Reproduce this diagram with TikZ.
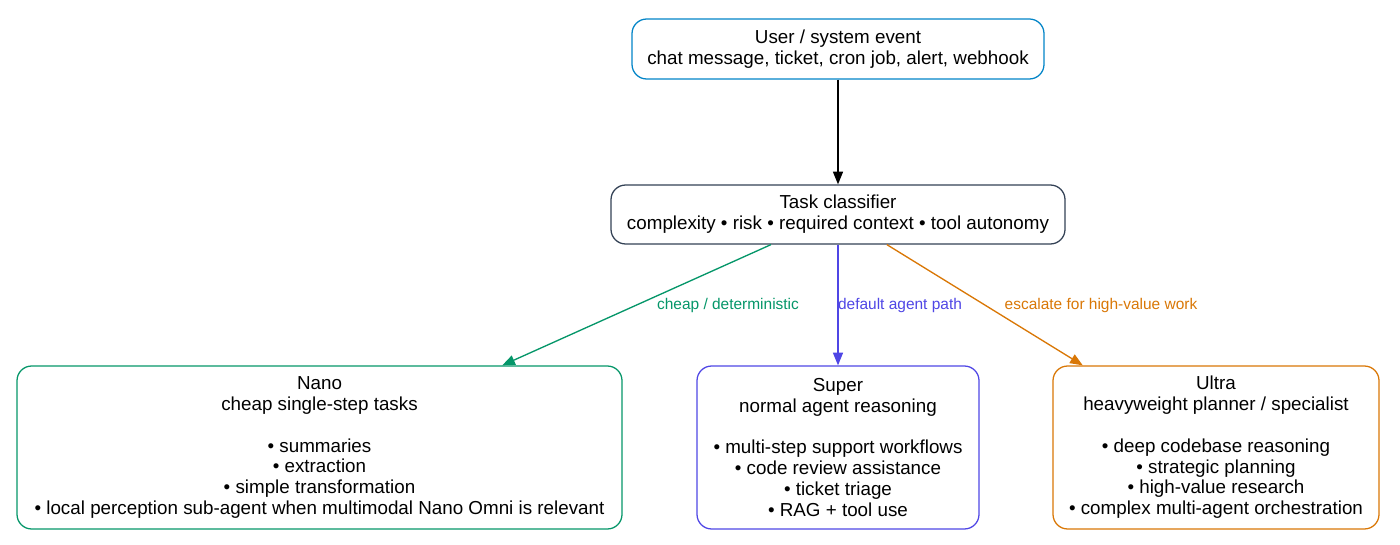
\documentclass[tikz,border=0pt]{standalone}
\usepackage{fontspec}
\setmainfont{Liberation Sans}
\usetikzlibrary{arrows.meta}
\definecolor{cTop}{HTML}{0284C7}
\definecolor{cCls}{HTML}{334155}
\definecolor{cGreen}{HTML}{059669}
\definecolor{cBlue}{HTML}{4F46E5}
\definecolor{cOrange}{HTML}{D97706}
\tikzset{
  box/.style={draw, rounded corners=11pt, line width=0.95pt, align=center, inner sep=0pt,
    font=\fontsize{14.1pt}{15.6pt}\selectfont, text=black},
  conn/.style={line width=1pt, -{Triangle[length=9.5pt,width=7.5pt]}},
  elabel/.style={font=\fontsize{11.6pt}{13pt}\selectfont},
}
\begin{document}
\begin{tikzpicture}[x=0.75pt,y=-0.75pt]
\useasboundingbox (0,0) rectangle (1400,545);
\node[box, draw=cTop, minimum width=309pt, minimum height=45pt] (evt) at (838,49)
  {User / system event\\chat message, ticket, cron job, alert, webhook};
\node[box, draw=cCls, minimum width=340.5pt, minimum height=44.25pt] (cls) at (838,214.5)
  {Task classifier\\complexity • risk • required context • tool autonomy};
\node[box, draw=cGreen, minimum width=453.75pt, minimum height=122.25pt] (nano) at (319.5,447.5)
  {Nano\\cheap single-step tasks\\[15.6pt]• summaries\\• extraction\\• simple transformation\\• local perception sub-agent when multimodal Nano Omni is relevant};
\node[box, draw=cBlue, minimum width=211.5pt, minimum height=122.25pt] (super) at (838,447.5)
  {Super\\normal agent reasoning\\[15.6pt]• multi-step support workflows\\• code review assistance\\• ticket triage\\• RAG + tool use};
\node[box, draw=cOrange, minimum width=244.5pt, minimum height=122.25pt] (ultra) at (1216,447.5)
  {Ultra\\heavyweight planner / specialist\\[15.6pt]• deep codebase reasoning\\• strategic planning\\• high-value research\\• complex multi-agent orchestration};
\draw[conn, black] (evt) -- (cls);
\draw[conn, cGreen] (cls) -- (nano);
\draw[conn, cBlue] (cls) -- (super);
\draw[conn, cOrange] (cls) -- (ultra);
\node[elabel, text=cGreen] (l1) at (728,306) {cheap / deterministic};
\node[elabel, text=cBlue] (l2) at (900,306) {default agent path};
\node[elabel, text=cOrange] (l3) at (1101,306) {escalate for high-value work};
\end{tikzpicture}
\end{document}
